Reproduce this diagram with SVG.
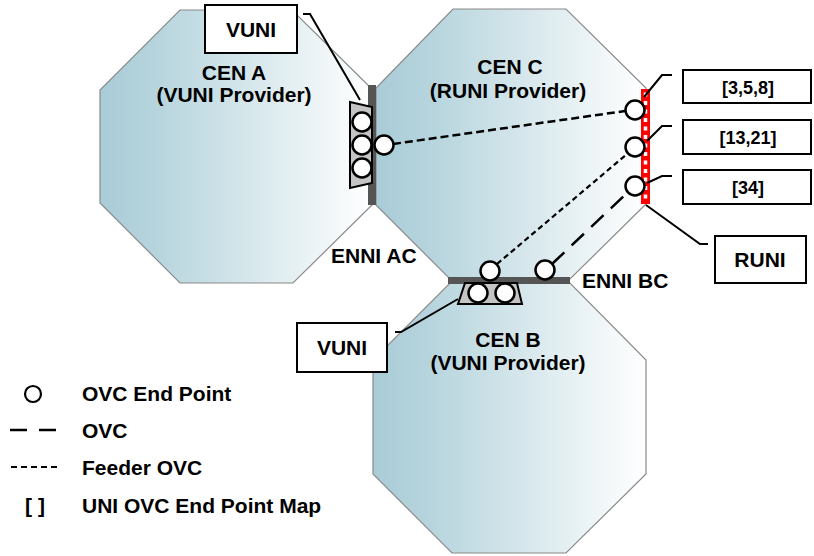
<svg xmlns="http://www.w3.org/2000/svg" width="814" height="556" viewBox="0 0 814 556">
<defs>
<linearGradient id="cen" x1="0" y1="0" x2="1" y2="0">
<stop offset="0" stop-color="#a9ccd7"/>
<stop offset="0.2" stop-color="#b6d4dd"/>
<stop offset="1" stop-color="#ffffff"/>
</linearGradient>
</defs>
<style>
.oct{fill:url(#cen);stroke:#8a8a8a;stroke-width:1.2}
.t{font-family:"Liberation Sans",Arial,sans-serif;font-weight:bold;font-size:21px;fill:#000}
.tc{text-anchor:middle}
.box{fill:#fff;stroke:#000;stroke-width:2}
.ep{fill:#fff;stroke:#000;stroke-width:2.5}
.trap{fill:#c4c4c4;stroke:#000;stroke-width:2}
.call{fill:none;stroke:#000;stroke-width:2}
.feed{fill:none;stroke:#000;stroke-width:2.5;stroke-dasharray:8 4}
.feed2{fill:none;stroke:#000;stroke-width:2.2;stroke-dasharray:5.5 3.5}
.ovc{fill:none;stroke:#000;stroke-width:2.5;stroke-dasharray:17 10}
.bar{fill:#555}
.m{font-size:18px}
</style>
<rect width="814" height="556" fill="#fff"/>
<g id="cen-a">
<polygon class="oct" points="180,10 292,10 372,89 372,205 293,283 180,283 100,203 100,90"/>
<text class="t tc" x="234" y="80">CEN A</text>
<text class="t tc" x="234" y="102">(VUNI Provider)</text>
</g>
<g id="cen-c">
<polygon class="oct" points="453,9 566,9 646,88 646,204 568,281 452,281 376,205 376,88"/>
<text class="t tc" x="510" y="74">CEN C</text>
<text class="t tc" x="508" y="98">(RUNI Provider)</text>
</g>
<g id="cen-b">
<polygon class="oct" points="452,281 568,281 646,360 646,474 566,553 452,553 373,474 373,360"/>
<text class="t tc" x="508" y="347">CEN B</text>
<text class="t tc" x="508" y="370">(VUNI Provider)</text>
</g>
<g id="enni-ac">
<rect class="bar" x="368" y="85" width="8" height="120"/>
<text class="t" x="331" y="263">ENNI AC</text>
</g>
<g id="enni-bc">
<rect class="bar" x="448" y="277" width="122" height="7"/>
<text class="t" x="582" y="288">ENNI BC</text>
</g>
<g id="runi-bar">
<rect x="641" y="89" width="9" height="115" fill="#ff0000"/>
<line x1="645.5" y1="92.5" x2="645.5" y2="202" stroke="#fff" stroke-width="3.5" stroke-dasharray="4 4.5"/>
</g>
<g id="connectors">
<line class="feed" x1="393" y1="144" x2="625" y2="111"/>
<line class="feed2" x1="497" y1="264" x2="627" y2="154"/>
<line class="ovc" x1="552" y1="264" x2="627" y2="193"/>
<polyline class="call" points="303,14 310,14 360,100"/>
<polyline class="call" points="395,332 401,332 458,299"/>
<polyline class="call" points="644,97 662,75 672,75"/>
<polyline class="call" points="647,141 662,126 672,126"/>
<polyline class="call" points="647,183 662,176 672,176"/>
<polyline class="call" points="646,205 700,244 708,244"/>
</g>
<g id="vuni-a-trap">
<polygon class="trap" points="350,102 372,107 372,183 350,188"/>
<circle class="ep" cx="362" cy="122" r="9.5"/>
<circle class="ep" cx="362" cy="145" r="9.5"/>
<circle class="ep" cx="362" cy="168" r="9.5"/>
</g>
<g id="ep-ac">
<circle class="ep" cx="384" cy="145" r="9.5"/>
</g>
<g id="vuni-b-trap">
<polygon class="trap" points="465,283 517,283 522,304 458,304"/>
<circle class="ep" cx="478" cy="293" r="9.5"/>
<circle class="ep" cx="505" cy="293" r="9.5"/>
</g>
<g id="ep-bc">
<circle class="ep" cx="490" cy="271" r="9.5"/>
<circle class="ep" cx="545" cy="270" r="9.5"/>
</g>
<g id="ep-c">
<circle class="ep" cx="635" cy="110" r="9.5"/>
<circle class="ep" cx="635" cy="147" r="9.5"/>
<circle class="ep" cx="635" cy="186" r="9.5"/>
</g>
<g id="vuni-top">
<rect class="box" x="205" y="5" width="92" height="48"/>
<text class="t tc" x="251" y="37">VUNI</text>
</g>
<g id="vuni-bottom">
<rect class="box" x="297" y="323" width="90" height="49"/>
<text class="t tc" x="342" y="355">VUNI</text>
</g>
<g id="map-358">
<rect class="box" x="683" y="70" width="128" height="33"/>
<text class="t tc m" x="748" y="94">[3,5,8]</text>
</g>
<g id="map-1321">
<rect class="box" x="683" y="120" width="128" height="34"/>
<text class="t tc m" x="748" y="144">[13,21]</text>
</g>
<g id="map-34">
<rect class="box" x="683" y="170" width="128" height="34"/>
<text class="t tc m" x="748" y="194">[34]</text>
</g>
<g id="runi">
<rect class="box" x="715" y="236" width="91" height="47"/>
<text class="t tc" x="760" y="267">RUNI</text>
</g>
<g id="legend">
<circle cx="33" cy="394" r="8" fill="#fff" stroke="#000" stroke-width="2.2"/>
<text class="t" x="82" y="401">OVC End Point</text>
<line x1="10" y1="430" x2="56" y2="430" stroke="#000" stroke-width="2.5" stroke-dasharray="17 12"/>
<text class="t" x="82" y="438">OVC</text>
<line x1="11" y1="467" x2="59" y2="467" stroke="#000" stroke-width="2" stroke-dasharray="6 4"/>
<text class="t" x="82" y="475">Feeder OVC</text>
<text class="t tc" x="35" y="513">[ ]</text>
<text class="t" x="82" y="513">UNI OVC End Point Map</text>
</g>
</svg>
